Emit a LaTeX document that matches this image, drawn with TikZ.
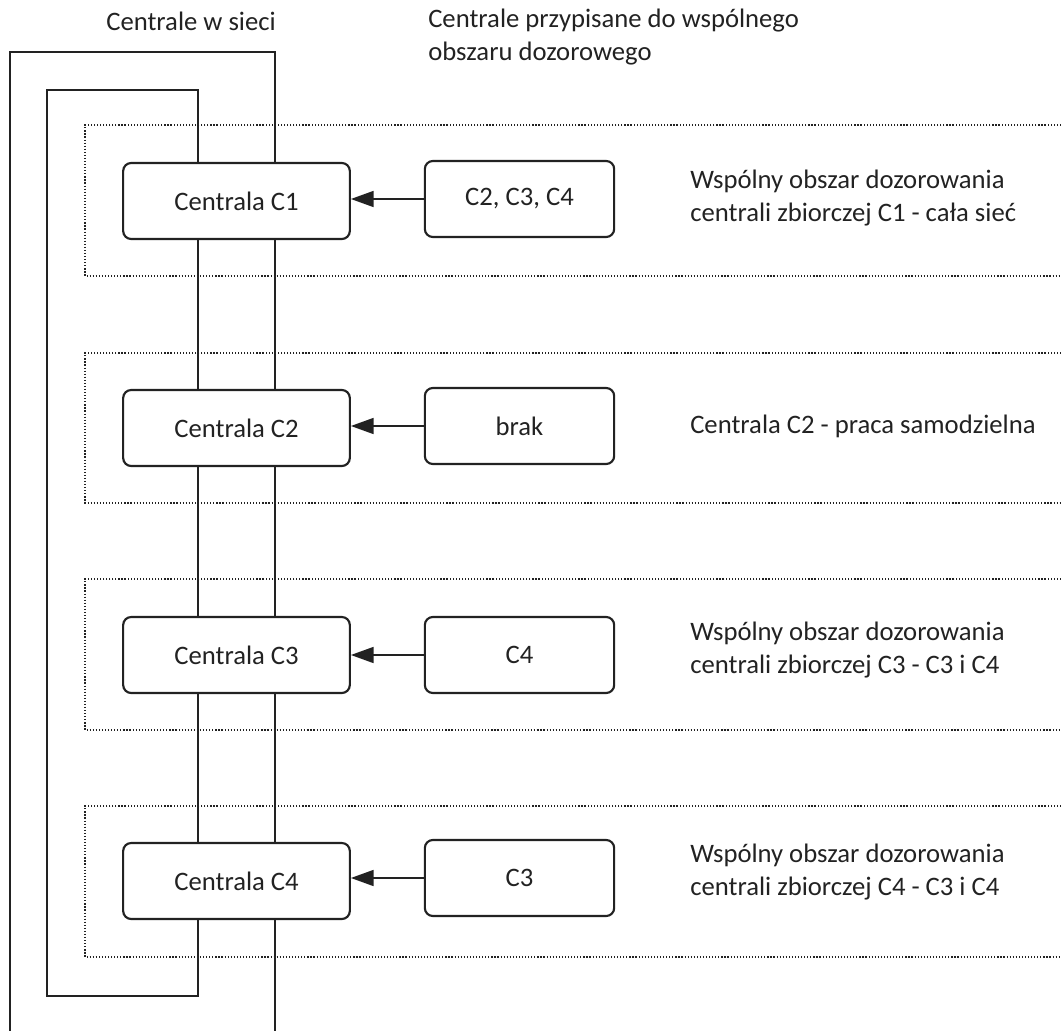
\documentclass[tikz,border=0pt]{standalone}
\usepackage{fontspec}
\setmainfont{Carlito}
\usetikzlibrary{arrows.meta}
\definecolor{ink}{HTML}{222222}
\tikzset{
  cbox/.style={draw=ink, line width=1.6pt, rounded corners=6pt, minimum width=170pt, minimum height=57pt, inner sep=0pt, font=\fontsize{20}{24.75}\selectfont, text=ink},
  abox/.style={cbox, minimum width=142pt},
  lbl/.style={inner sep=0pt, align=left, font=\fontsize{20}{24.75}\selectfont, text=ink},
  wire/.style={draw=ink, line width=1.1pt},
  zone/.style={draw=ink, line width=0.9pt, dash pattern=on 0.9pt off 1.4pt},
  feed/.style={draw=ink, line width=1.1pt, -{Triangle[length=17pt,width=12pt]}}
}
\begin{document}
\begin{tikzpicture}[x=0.75pt,y=-0.75pt]
\useasboundingbox (0,0) rectangle (1061,1031);
% zones
\foreach \t/\b in {125/276,353/503,579/730,806/957}{
  \draw[zone] (1061,\t) -- (85,\t) -- (85,\b) -- (1061,\b);
}
% headers
\node[lbl] (h1) at (191,21) {Centrale w sieci};
\node[lbl, anchor=west] (h2) at (428,37) {Centrale przypisane do wspólnego\\obszaru dozorowego};
% boxes
\node[cbox] (L1) at (236.5,201) {Centrala C1};
\node[cbox] (L2) at (236.5,428) {Centrala C2};
\node[cbox] (L3) at (236.5,655) {Centrala C3};
\node[cbox] (L4) at (236.5,881) {Centrala C4};
\node[abox] (R1) at (519.5,199) {C2, C3, C4};
\node[abox] (R2) at (519.5,426) {brak};
\node[abox] (R3) at (519.5,655) {C4};
\node[abox] (R4) at (519.5,878) {C3};
% descriptions
\node[lbl, anchor=west] (T1) at (690,198) {Wspólny obszar dozorowania\\centrali zbiorczej C1 - cała sieć};
\node[lbl, anchor=west] (T2) at (690,426) {Centrala C2 - praca samodzielna};
\node[lbl, anchor=west] (T3) at (690,650) {Wspólny obszar dozorowania\\centrali zbiorczej C3 - C3 i C4};
\node[lbl, anchor=west] (T4) at (690,872) {Wspólny obszar dozorowania\\centrali zbiorczej C4 - C3 i C4};
% arrows
\foreach \i in {1,2,3,4}{
  \draw[feed] (R\i.west) -- (R\i.west -| L\i.east);
}
% network loops
\coordinate (ol1) at (275,52);
\coordinate (ol2) at (10,52);
\coordinate (ol3) at (10,1031);
\coordinate (or) at (275,1031);
\coordinate (il1) at (198,90);
\coordinate (il2) at (47,90);
\coordinate (il3) at (47,996);
\coordinate (il4) at (198,996);
\draw[wire] (L1.north -| ol1) -- (ol1) -- (ol2) -- (ol3);
\draw[wire] (L4.south -| ol1) -- (or);
\draw[wire] (L1.north -| il1) -- (il1) -- (il2) -- (il3) -- (il4) -- (L4.south -| il4);
\foreach \a/\b in {1/2,2/3,3/4}{
  \draw[wire] (L\a.south -| il1) -- (L\b.north -| il1);
  \draw[wire] (L\a.south -| ol1) -- (L\b.north -| ol1);
}
\end{tikzpicture}
\end{document}
